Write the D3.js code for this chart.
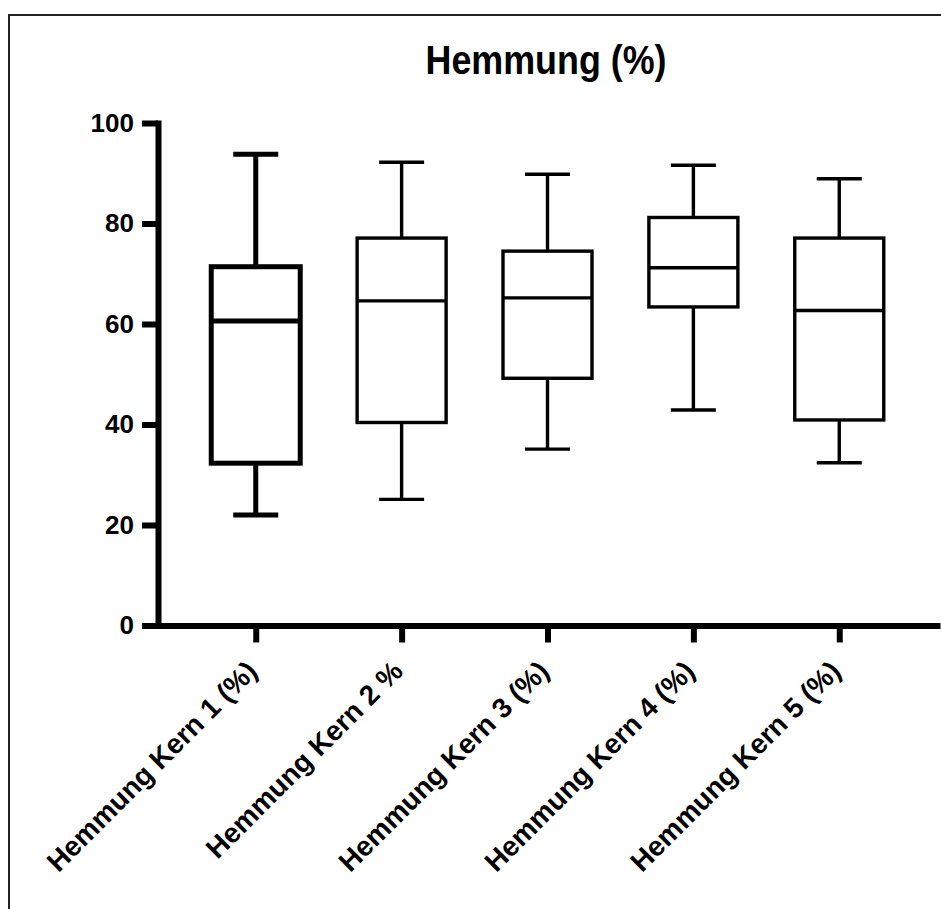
<!DOCTYPE html>
<html>
<head>
<meta charset="utf-8">
<script src="https://cdn.jsdelivr.net/npm/d3@7"></script>
<style>
  body { margin: 0; background: #fff; }
  svg { display: block; font-family: "Liberation Sans", Arial, sans-serif; }
</style>
</head>
<body>
<div id="chart"></div>
<script>
const Width = 941;
const Height = 909;

// data
const categories = ["Hemmung Kern 1 (%)", "Hemmung Kern 2 %", "Hemmung Kern 3 (%)", "Hemmung Kern 4 (%)", "Hemmung Kern 5 (%)"];
const mins    = [22.0, 25.1, 35.1, 42.9, 32.4];
const q1s     = [32.3, 40.4, 49.2, 63.4, 40.9];
const medians = [60.6, 64.6, 65.2, 71.2, 62.7];
const q3s     = [71.4, 77.1, 74.5, 81.2, 77.1];
const maxs    = [93.8, 92.2, 89.8, 91.6, 88.9];
const yTicks  = [0, 20, 40, 60, 80, 100];

const svg = d3.select("#chart").append("svg").attr("width", Width).attr("height", Height);

// frame
svg.append("rect")
    .attr("x", 9).attr("y", 15)
    .attr("width", Width + 20).attr("height", Height + 20)
    .attr("fill", "none")
    .attr("stroke", "#222")
    .attr("stroke-width", 2);

const x = d3.scalePoint().domain(categories).range([158, 937]).padding(0.67);
const y = d3.scaleLinear().domain([0, 100]).range([625.5, 123]);

// title
svg.append("text")
    .attr("x", 546).attr("y", 74)
    .attr("text-anchor", "middle")
    .attr("font-size", 40)
    .attr("font-weight", "bold")
    .attr("textLength", 241)
    .attr("lengthAdjust", "spacingAndGlyphs")
    .text("Hemmung (%)");

// y axis
const yAxis = svg.append("g")
    .attr("transform", "translate(158,0)")
    .call(d3.axisLeft(y).tickValues(yTicks).tickSize(16).tickSizeOuter(0).tickPadding(8));
yAxis.selectAll("path, line").attr("stroke", "#000").attr("stroke-width", 6);
yAxis.select(".domain").attr("stroke-linecap", "square");
yAxis.selectAll("text")
    .attr("fill", "#000")
    .attr("font-size", 26)
    .attr("font-weight", "bold")
    .attr("font-family", "Liberation Sans, Arial, sans-serif");

// x axis
const xAxis = svg.append("g")
    .attr("transform", "translate(0,625.5)")
    .call(d3.axisBottom(x).tickSize(17).tickSizeOuter(0).tickFormat(""));
xAxis.selectAll("path, line").attr("stroke", "#000").attr("stroke-width", 6);
xAxis.select(".domain").attr("stroke-linecap", "square");

// rotated category labels
svg.append("g").selectAll("text")
    .data(categories)
    .join("text")
    .attr("transform", d => `translate(${x(d) + 3},673) rotate(-45)`)
    .attr("text-anchor", "end")
    .attr("font-size", 28)
    .attr("font-weight", "bold")
    .attr("fill", "#000")
    .text(d => d);

// boxes
const boxW = 89;
const capW = 45;
const boxes = svg.append("g").selectAll("g")
    .data(categories)
    .join("g")
    .attr("fill", "none")
    .attr("stroke", "#000")
    .attr("stroke-width", (d, i) => i === 0 ? 5 : 3.4);

// whiskers
boxes.append("line")
    .attr("x1", d => x(d)).attr("x2", d => x(d))
    .attr("y1", (d, i) => y(maxs[i])).attr("y2", (d, i) => y(q3s[i]));
boxes.append("line")
    .attr("x1", d => x(d)).attr("x2", d => x(d))
    .attr("y1", (d, i) => y(q1s[i])).attr("y2", (d, i) => y(mins[i]));
// caps
boxes.append("line")
    .attr("x1", d => x(d) - capW / 2).attr("x2", d => x(d) + capW / 2)
    .attr("y1", (d, i) => y(maxs[i])).attr("y2", (d, i) => y(maxs[i]));
boxes.append("line")
    .attr("x1", d => x(d) - capW / 2).attr("x2", d => x(d) + capW / 2)
    .attr("y1", (d, i) => y(mins[i])).attr("y2", (d, i) => y(mins[i]));
// box
boxes.append("rect")
    .attr("x", d => x(d) - boxW / 2)
    .attr("width", boxW)
    .attr("y", (d, i) => y(q3s[i]))
    .attr("height", (d, i) => y(q1s[i]) - y(q3s[i]))
    .attr("fill", "#fff");
// median
boxes.append("line")
    .attr("x1", d => x(d) - boxW / 2).attr("x2", d => x(d) + boxW / 2)
    .attr("y1", (d, i) => y(medians[i])).attr("y2", (d, i) => y(medians[i]));
</script>
</body>
</html>
